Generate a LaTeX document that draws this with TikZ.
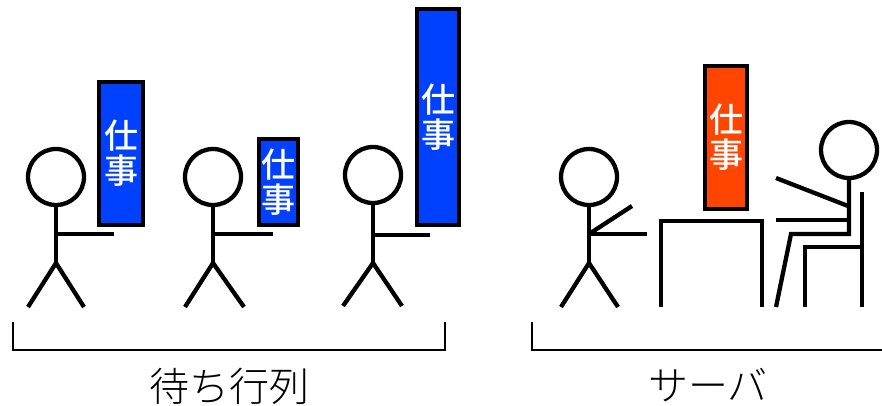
\documentclass[tikz,border=0pt]{standalone}
\usepackage{fontspec}
\newfontfamily\jp{Noto Sans CJK JP}
\newfontfamily\jpmed{Noto Sans CJK JP Medium}
\newfontfamily\jplight{Noto Sans CJK JP Light}
\definecolor{jobblue}{RGB}{0,64,255}
\definecolor{jobred}{RGB}{255,69,0}
\begin{document}
\begin{tikzpicture}[x=1pt,y=-1pt,
  stick/.style={line width=4.3pt, line join=miter},
  head/.style={circle, draw, line width=4.3pt, minimum size=56pt, inner sep=0pt},
  jobbox/.style={draw, line width=4.3pt, inner sep=0pt, text=white,
    font=\jpmed\fontsize{34}{35}\selectfont, align=center},
  bracket/.style={line width=1.4pt, line join=miter},
  caption/.style={font=\jplight\fontsize{40}{40}\selectfont, inner sep=0pt}
]
\useasboundingbox (0,0) rectangle (882,405);

% --- queue: three people each holding a job ---
\node[head] (h1) at (56,177) {};
\coordinate (hip1) at (56,263);
\coordinate (sh1) at (56,234);
\coordinate (hand1) at (114,234);
\coordinate (fl1) at (28,307);
\coordinate (fr1) at (84,307);
\draw[stick] (h1.south) -- (hip1);
\draw[stick] (sh1) -- (hand1);
\draw[stick] (fl1) -- (hip1) -- (fr1);
\node[jobbox, fill=jobblue, minimum width=44pt, minimum height=143pt] (job1) at (121,153.5) {仕\\事};

\node[head] (h2) at (213,177) {};
\coordinate (hip2) at (213,263);
\coordinate (sh2) at (213,234);
\coordinate (hand2) at (273,234);
\coordinate (fl2) at (185,307);
\coordinate (fr2) at (244,307);
\draw[stick] (h2.south) -- (hip2);
\draw[stick] (sh2) -- (hand2);
\draw[stick] (fl2) -- (hip2) -- (fr2);
\node[jobbox, fill=jobblue, minimum width=39pt, minimum height=86pt] (job2) at (278.5,182) {仕\\事};

\node[head] (h3) at (373,175) {};
\coordinate (hip3) at (373,263);
\coordinate (sh3) at (373,235);
\coordinate (hand3) at (430,235);
\coordinate (fl3) at (343,306);
\coordinate (fr3) at (402,306);
\draw[stick] (h3.south) -- (hip3);
\draw[stick] (sh3) -- (hand3);
\draw[stick] (fl3) -- (hip3) -- (fr3);
\node[jobbox, fill=jobblue, minimum width=42pt, minimum height=216pt] (job3) at (438,117) {仕\\事};

% --- server: person handing over a job at a desk ---
\node[head] (h4) at (589,177) {};
\coordinate (hip4) at (589,263);
\coordinate (sh4) at (589,234);
\coordinate (upper4) at (632,206);
\coordinate (hand4) at (647,234);
\coordinate (fl4) at (561,307);
\coordinate (fr4) at (618,307);
\draw[stick] (h4.south) -- (hip4);
\draw[stick] (sh4) -- (upper4);
\draw[stick] (sh4) -- (hand4);
\draw[stick] (fl4) -- (hip4) -- (fr4);

\coordinate (deskbl) at (661,307);
\coordinate (desktl) at (661,221);
\coordinate (desktr) at (762,221);
\coordinate (deskbr) at (762,307);
\draw[stick] (deskbl) -- (desktl) -- (desktr) -- (deskbr);

\node[jobbox, fill=jobred, minimum width=42pt, minimum height=143pt] (job4) at (726,137.5) {\raisebox{-5pt}{\parbox{40pt}{\centering 仕\\事}}};

% seated worker on a chair
\node[head] (h5) at (849,150) {};
\coordinate (seat5) at (849,234);
\coordinate (knee5) at (791,234);
\coordinate (foot5) at (776,307);
\coordinate (sh5) at (848,206);
\coordinate (hand5) at (776,178);
\coordinate (elbow5) at (849,220);
\coordinate (rest5) at (776,220);
\draw[stick] (h5.south) -- (seat5) -- (knee5) -- (foot5);
\draw[stick] (sh5) -- (hand5);
\draw[stick] (elbow5) -- (rest5);

\coordinate (backtop) at (862,192);
\coordinate (backfoot) at (862,307);
\coordinate (seatfront) at (805,247);
\coordinate (seatback) at (862,247);
\coordinate (frontfoot) at (805,307);
\draw[stick] (backtop) -- (backfoot);
\draw[stick] (frontfoot) -- (seatfront) -- (seatback);

% --- brackets and captions ---
\coordinate (qa) at (13,322);
\coordinate (qb) at (13,350);
\coordinate (qc) at (445,350);
\coordinate (qd) at (445,322);
\draw[bracket] (qa) -- (qb) -- (qc) -- (qd);
\coordinate (sa) at (532,322);
\coordinate (sb) at (532,350);
\coordinate (sc) at (884,350);
\draw[bracket] (sa) -- (sb) -- (sc);

\node[caption] (queue) at (229,386) {待ち行列};
\node[caption] (server) at (708,385) {サーバ};
\end{tikzpicture}
\end{document}
